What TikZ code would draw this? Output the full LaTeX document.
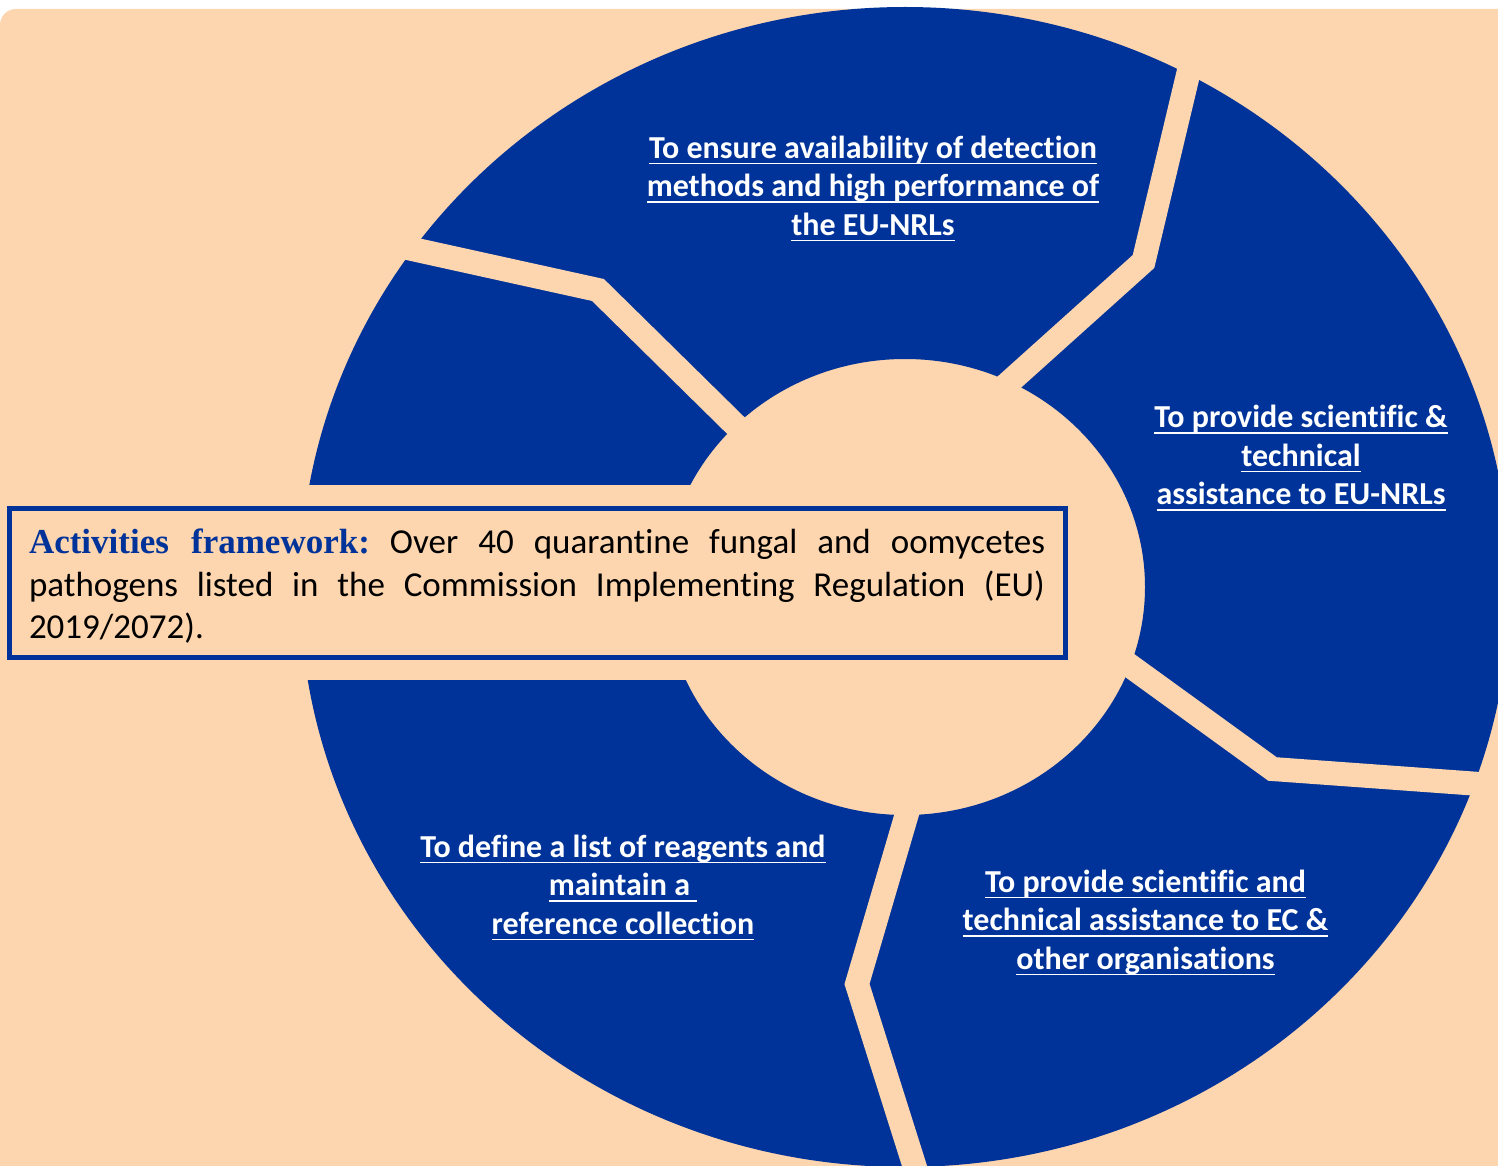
\documentclass[tikz,border=0pt]{standalone}
\usepackage{fontspec}
\setmainfont{Carlito}[Ligatures=NoCommon]
\newfontfamily\headfont{Liberation Serif}
\usetikzlibrary{positioning}
\definecolor{ringblue}{RGB}{0,51,153}
\definecolor{peach}{RGB}{253,213,174}
\newsavebox\ulbox
\newcommand\ulline[1]{\sbox\ulbox{#1}\leavevmode\rlap{\rule[-3.1pt]{\wd\ulbox}{0.9pt}}\usebox\ulbox}
\frenchspacing

\begin{document}
\begin{tikzpicture}[x=0.5pt,y=-0.5pt]

\tikzset{
  gap/.style={draw=peach, line width=12pt, line join=miter, miter limit=20},
  seglabel/.style={text=white, inner sep=0pt, align=center,
    font=\fontsize{16}{19.25}\selectfont\bfseries},
  framebox/.style={draw=ringblue, line width=2.5pt, inner sep=0pt,
    minimum width=528pt, minimum height=74.5pt,
    text width=508pt, align=justify,
    font=\fontsize{17.5}{21.25}\selectfont}
}

\useasboundingbox (0,0) rectangle (1498,1166);
\clip (0,0) rectangle (1498,1166);
\fill[white] (0,0) rectangle (1498,1166);
\fill[peach, rounded corners=8pt] (0,9) rectangle (1540,1190);

% ring and the cuts between its parts
\fill[ringblue, even odd rule] (905,587) ellipse [x radius=605, y radius=580]
  (905,587) ellipse [x radius=240, y radius=228];
\draw[gap] (335,232) -- (598,290) -- (779,468);
\draw[gap] (1202,16) -- (1143.5,261.5) -- (966,421);
\draw[gap] (1082,631) -- (1272.5,769) -- (1535,788);
\draw[gap] (923,759) -- (857,984) -- (932.5,1223);
\fill[peach] (0,485) rectangle (905,680);

% labels
\node[seglabel] (detect) at (873,188.5)
  {\ulline{To ensure availability of detection}\\
   \ulline{methods and high performance of}\\
   \ulline{the EU-NRLs}};
\node[seglabel] (nrlhelp) at (1301,458)
  {\ulline{To provide scientific \&}\\
   \ulline{technical}\\
   \ulline{assistance to EU-NRLs}};
\node[seglabel] (reagents) at (623,887.5)
  {\ulline{To define a list of reagents and}\\
   \ulline{maintain a\ }\\
   \ulline{reference collection}};
\node[seglabel] (echelp) at (1145.5,922.5)
  {\ulline{To provide scientific and}\\
   \ulline{technical assistance to EC \&}\\
   \ulline{other organisations}};

\node[framebox] (frame) at (537,582.5)
  {\rule{0pt}{16pt}{\headfont\bfseries\color{ringblue}Activities framework:} Over 40 quarantine fungal and oomycetes\linebreak
   pathogens listed in the Commission Implementing Regulation (EU)\linebreak
   2019/2072).};

\end{tikzpicture}
\end{document}
